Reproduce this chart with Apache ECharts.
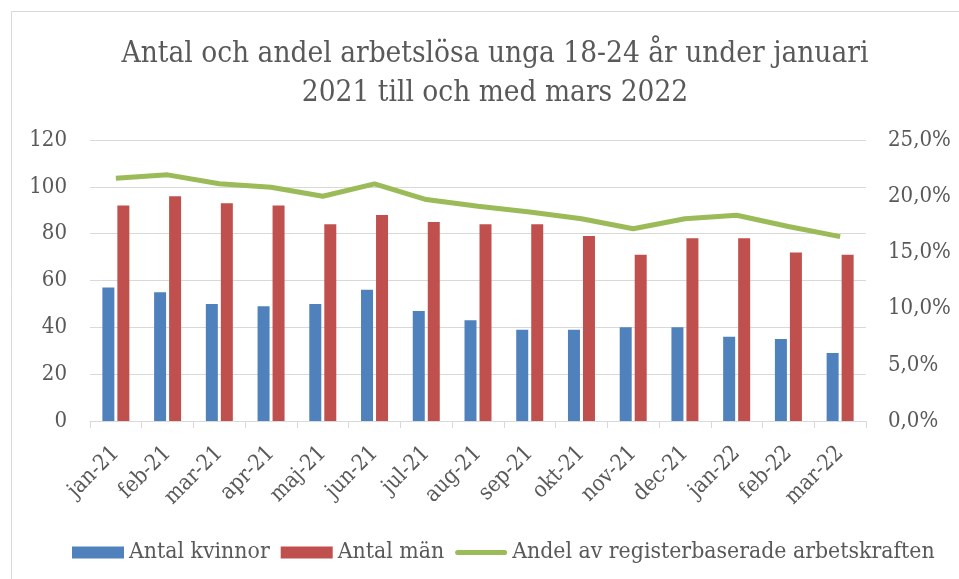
<!DOCTYPE html>
<html>
<head>
    <meta charset="utf-8">
    <script src="https://cdn.jsdelivr.net/npm/echarts@6/dist/echarts.min.js"></script>
    <style>
        html, body { width: 100%; height: 100%; margin: 0; background: #fff; }
    </style>
</head>
<body>
    <div id="main" style="width: 959px; height: 579px;"></div>
    <script>
        var months = ['jan-21', 'feb-21', 'mar-21', 'apr-21', 'maj-21', 'jun-21', 'jul-21', 'aug-21',
            'sep-21', 'okt-21', 'nov-21', 'dec-21', 'jan-22', 'feb-22', 'mar-22'];
        var kvinnor = [57, 55, 50, 49, 50, 56, 47, 43, 39, 39, 40, 40, 36, 35, 29];
        var man = [92, 96, 93, 92, 84, 88, 85, 84, 84, 79, 71, 78, 78, 72, 71];
        var andel = [21.6, 21.9, 21.1, 20.8, 20.0, 21.1, 19.7, 19.1, 18.6, 18.0, 17.1, 18.0, 18.3, 17.3, 16.4];

        var font = '"DejaVu Serif Condensed", "Liberation Serif", serif';
        var txt = '#595959';
        var grey = '#d9d9d9';

        var chart = echarts.init(document.getElementById('main'));
        chart.setOption({
            animation: false,
            textStyle: { fontFamily: font },
            graphic: [{
                type: 'rect',
                shape: { x: 11.5, y: 11.5, width: 1200, height: 1200 },
                style: { fill: 'none', stroke: grey, lineWidth: 1 },
                silent: true
            }],
            title: {
                text: 'Antal och andel arbetslösa unga 18-24 år under januari\n2021 till och med mars 2022',
                left: 490,
                textAlign: 'center',
                top: 30,
                textStyle: { fontFamily: font, fontSize: 29.5, fontWeight: 'normal', color: txt, lineHeight: 39 }
            },
            legend: {
                top: 536,
                left: 67,
                itemGap: 11,
                itemWidth: 52,
                itemHeight: 12,
                textStyle: { fontFamily: font, fontSize: 22.8, color: txt },
                data: [
                    { name: 'Antal kvinnor', icon: 'rect' },
                    { name: 'Antal män', icon: 'rect' },
                    { name: 'Andel av registerbaserade arbetskraften', icon: 'path://M2.5,0H49.5A2.5,2.5 0 0 1 49.5,5H2.5A2.5,2.5 0 0 1 2.5,0Z' }
                ]
            },
            grid: { left: 90, right: 93, top: 140, bottom: 158 },
            xAxis: {
                type: 'category',
                data: months,
                axisLine: { lineStyle: { color: grey } },
                axisTick: { show: true, length: 7, lineStyle: { color: grey } },
                axisLabel: { rotate: 45, fontSize: 22, color: txt, fontFamily: font, interval: 0, margin: 29 }
            },
            yAxis: [{
                type: 'value',
                min: 0, max: 120, interval: 20,
                axisLine: { show: false },
                axisTick: { show: false },
                splitLine: { lineStyle: { color: grey } },
                axisLabel: { fontSize: 22, color: txt, fontFamily: font, margin: 23 }
            }, {
                type: 'value',
                min: 0, max: 25, interval: 5,
                axisLine: { show: false },
                axisTick: { show: false },
                splitLine: { show: false },
                axisLabel: {
                    fontSize: 22, color: txt, fontFamily: font, margin: 22,
                    formatter: function (v) { return v.toFixed(1).replace('.', ',') + '%'; }
                }
            }],
            series: [{
                name: 'Antal kvinnor',
                type: 'bar',
                data: kvinnor,
                barWidth: 12,
                barGap: '25%',
                itemStyle: { color: '#4f81bd' }
            }, {
                name: 'Antal män',
                type: 'bar',
                data: man,
                barWidth: 12,
                itemStyle: { color: '#c0504d' }
            }, {
                name: 'Andel av registerbaserade arbetskraften',
                type: 'line',
                yAxisIndex: 1,
                data: andel,
                symbol: 'none',
                lineStyle: { color: '#9bbb59', width: 5 },
                itemStyle: { color: '#9bbb59' }
            }]
        });
    </script>
</body>
</html>
